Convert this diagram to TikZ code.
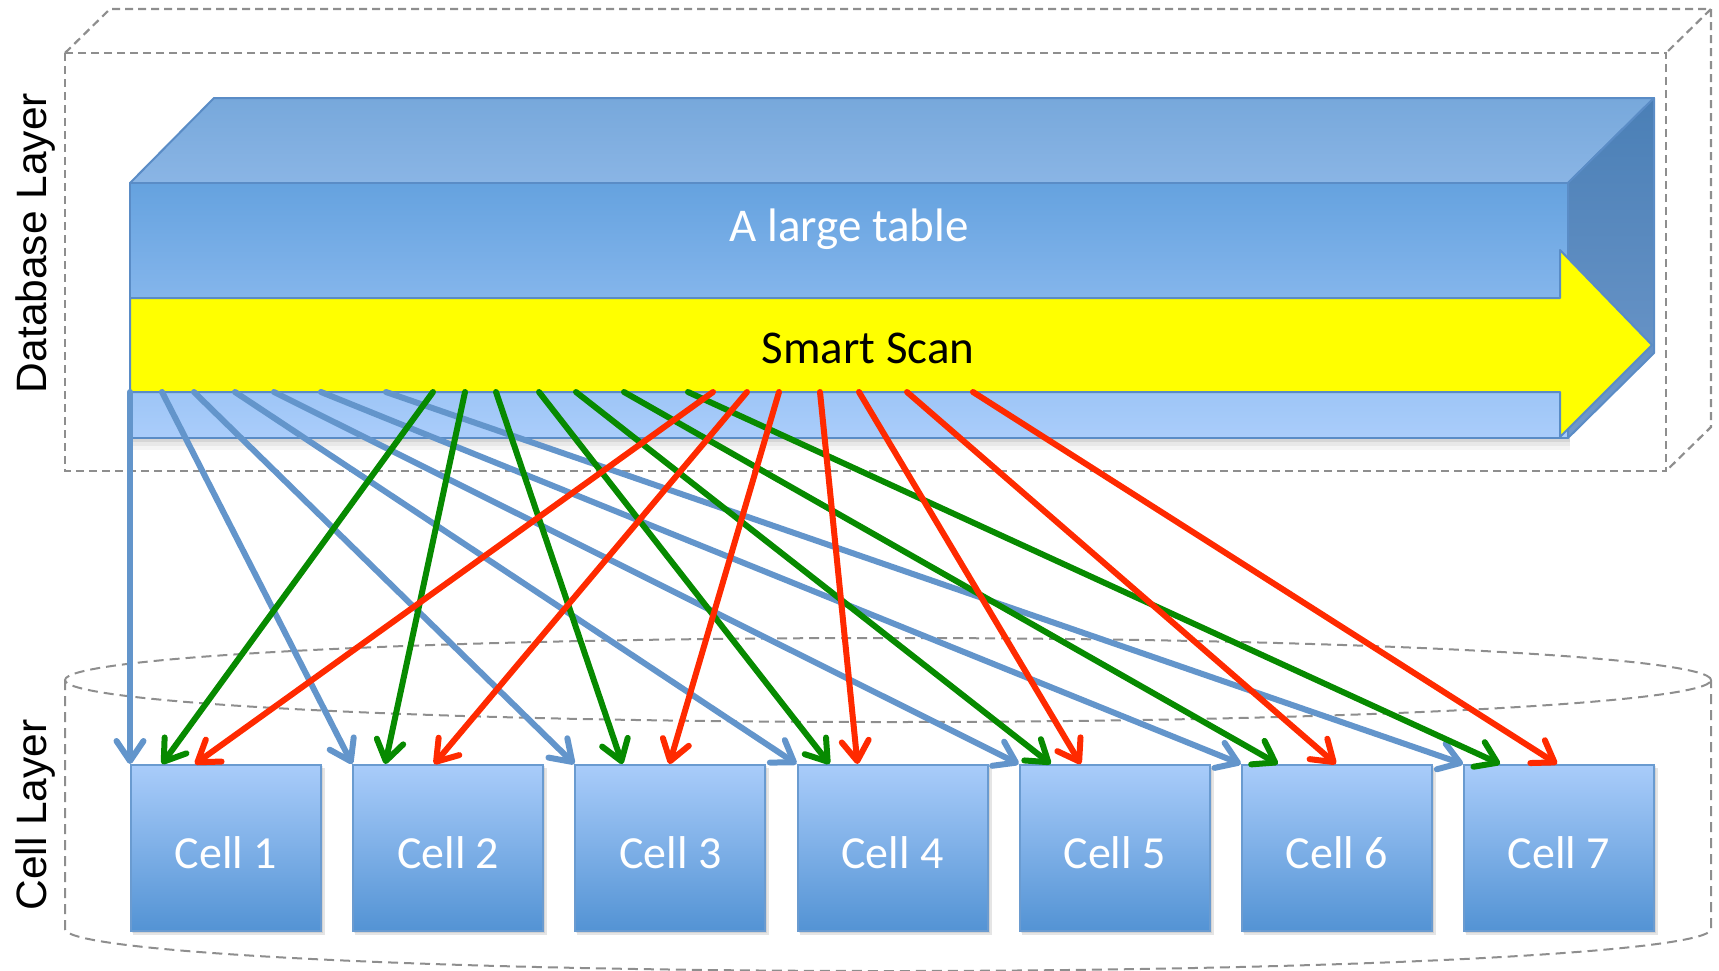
\documentclass[tikz,border=0pt]{standalone}
\usepackage{fontspec}
\setmainfont{Carlito}
\newfontfamily\layerfont{Liberation Sans}
\usetikzlibrary{arrows.meta,calc}

\definecolor{dashgray}{HTML}{8E8E8E}
\definecolor{tableedge}{HTML}{5A8CC6}
\definecolor{frontA}{HTML}{65A2DF}
\definecolor{frontB}{HTML}{AACDFB}
\definecolor{topA}{HTML}{77A8DB}
\definecolor{topB}{HTML}{8AB5E5}
\definecolor{sideA}{HTML}{4A7FB6}
\definecolor{sideB}{HTML}{7099CB}
\definecolor{scanyellow}{HTML}{FFFF00}
\definecolor{celltop}{HTML}{A9CCFA}
\definecolor{cellbot}{HTML}{5393D4}
\definecolor{cellborder}{HTML}{6A9BD0}
\definecolor{flowblue}{HTML}{6395CB}
\definecolor{flowgreen}{HTML}{078A00}
\definecolor{flowred}{HTML}{FF2A00}

\begin{document}
\begin{tikzpicture}[x=1pt,y=-1pt,
  cubeline/.style={draw=dashgray, line width=2.2pt, dash pattern=on 8pt off 5pt},
  cylline/.style={draw=dashgray, line width=2pt, dash pattern=on 10pt off 6pt},
  facet/.style={draw=tableedge, line width=2pt, line join=round},
  cellbox/.style={draw=cellborder, line width=2pt, top color=celltop, bottom color=cellbot,
    minimum width=190pt, minimum height=166pt, inner sep=0pt, anchor=north west,
    text=white, font=\fontsize{46}{55}\selectfont, text height=40pt, text depth=0pt},
  layerlabel/.style={rotate=90, anchor=base, font=\layerfont\fontsize{42.5}{50}\selectfont},
  flow/.style={line width=6pt, line cap=round,
    -{Straight Barb[length=20pt,width=27pt,line cap=round,line join=round]}},
  flowb/.style={flow, draw=flowblue},
  flowg/.style={flow, draw=flowgreen},
  flowr/.style={flow, draw=flowred}]

\useasboundingbox (0,0) rectangle (1719,970);
\clip (0,0) rectangle (1719,970);

% ---- database layer: dashed box in perspective ----
\draw[cubeline] (65,53) rectangle (1666,471);
\draw[cubeline] (65,53) -- (110,9) -- (1711,9) -- (1666,53);
\draw[cubeline] (1711,9) -- (1711,427) -- (1666,471);

% ---- cell layer: dashed cylinder ----
\draw[cylline] (888,680) ellipse [x radius=823pt, y radius=42pt];
\draw[cylline] (65,680) -- (65,929)
  arc [start angle=180, end angle=360, x radius=823pt, y radius=42pt]
  -- (1711,680);

% ---- the large table as a block ----
\fill[black, opacity=0.16] (132,438) rectangle (1570,442);
\fill[black, opacity=0.09] (132,442) rectangle (1570,446);
\fill[black, opacity=0.04] (132,446) rectangle (1570,450);
\draw[facet, top color=topA, bottom color=topB]
  (130,183) -- (214,98) -- (1654,98) -- (1568,183) -- cycle;
\draw[facet, top color=sideA, bottom color=sideB]
  (1568,183) -- (1654,98) -- (1654,353) -- (1568,438) -- cycle;
\draw[facet, top color=frontA, bottom color=frontB] (130,183) rectangle (1568,438);
\node[text=white, anchor=base, font=\fontsize{47}{56}\selectfont] (tbl) at (849,241) {A large table};

% ---- smart scan arrow ----
\draw[facet, fill=scanyellow]
  (130,298) -- (1560,298) -- (1560,250) -- (1652,345) -- (1560,437) -- (1560,392) -- (130,392) -- cycle;
\node[text=black, anchor=base, font=\fontsize{47}{56}\selectfont] (scan) at (868,363) {Smart Scan};

% ---- layer labels ----
\node[layerlabel] (dblabel) at (46,243) {Database Layer};
\node[layerlabel] (celllabel) at (46,815) {Cell Layer};

% ---- cells ----
\foreach \i in {1,...,7} {
  \pgfmathsetmacro{\cx}{130+222.17*(\i-1)}
  \fill[black, opacity=0.10] (\cx+3,768) rectangle (\cx+195,935);
  \fill[black, opacity=0.08] (\cx+2,766) rectangle (\cx+193,933);
  \node[cellbox] (c\i) at (\cx,764) {Cell \i};
}

% ---- start points on the underside of the scan ----
\foreach \i/\x in {1/130,2/162,3/194,4/235,5/274,6/321,7/386}
  \coordinate (sb\i) at (\x,392);
\foreach \i/\x in {1/433,2/465,3/496,4/539,5/576,6/624,7/688}
  \coordinate (sg\i) at (\x,392);
\foreach \i/\x in {1/713,2/747,3/779,4/820,5/859,6/907,7/973}
  \coordinate (sr\i) at (\x,392);

% ---- requests sent to each cell ----
\foreach \i in {1,...,7}
  \draw[flowb] (sb\i) -- (c\i.north west);
\foreach \i/\o in {1/32,2/33,3/48,4/33,5/32,6/37,7/37}
  \draw[flowg] (sg\i) -- ([xshift=\o pt]c\i.north west);
\foreach \i/\o in {1/65,2/82,3/95,4/61,5/62,6/95,7/94}
  \draw[flowr] (sr\i) -- ([xshift=\o pt]c\i.north west);

\end{tikzpicture}
\end{document}
